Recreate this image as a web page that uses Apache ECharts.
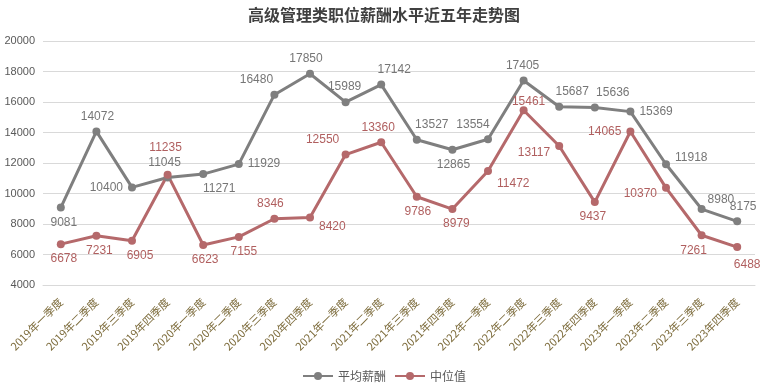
<!DOCTYPE html>
<html><head><meta charset="utf-8">
<script src="https://cdn.jsdelivr.net/npm/echarts@6/dist/echarts.min.js"></script>
<style>html,body{margin:0;padding:0;background:#fff}#c{width:768px;height:391px}</style>
</head><body><div id="c"></div>
<script>
var categories = ['2019年一季度','2019年二季度','2019年三季度','2019年四季度','2020年一季度','2020年二季度','2020年三季度','2020年四季度','2021年一季度','2021年二季度','2021年三季度','2021年四季度','2022年一季度','2022年二季度','2022年三季度','2022年四季度','2023年一季度','2023年二季度','2023年三季度','2023年四季度'];
var avgPay = [9081,14072,10400,11045,11271,11929,16480,17850,15989,17142,13527,12865,13554,17405,15687,15636,15369,11918,8980,8175];
var medianPay = [6678,7231,6905,11235,6623,7155,8346,8420,12550,13360,9786,8979,11472,15461,13117,9437,14065,10370,7261,6488];
var yTicks = {min:4000, max:20000, interval:2000};

// label placement (style only)
var avgLabelPos = ['bottom','top','left','top','bottom','right','top','top','top','top','top','bottom','top','top','top','top','right','right','right','top'];
var avgLabelOff = [[3,0],[1,0],[0,0],[-3,0],[16,0],[0,0],[-18,0],[-4,0],[-1,0],[13,0],[15,0],[1,0],[-15,0],[-1,0],[13,0],[18,0],[0,0],[0,-7],[-3,-9],[6,0]];
var medLabelPos = ['bottom','bottom','bottom','top','bottom','bottom','top','right','top','top','bottom','bottom','right','top','left','bottom','left','left','bottom','bottom'];
var medLabelOff = [[3,0],[3,0],[8,0],[-2,-12],[2,0],[5,0],[-4,0],[0,9],[-23,0],[-3,0],[1,0],[4,0],[0,13],[5,6],[0,7],[-2,0],[0,0],[0,6],[-8,0],[10,3]];

function build(vals, pos, off){
  return vals.map(function(v,i){return {value:v,label:{position:pos[i],offset:off[i]}};});
}
var chart = echarts.init(document.getElementById('c'));
var lblFont = {fontFamily:'Liberation Sans, Arial, sans-serif', fontSize:12};
chart.setOption({
  animation:false,
  title:{text:'高级管理类职位薪酬水平近五年走势图',left:'center',top:2,
    textStyle:{fontFamily:'Noto Sans CJK SC',fontSize:16,fontWeight:'bold',color:'#404040'}},
  grid:{left:43,right:13,top:41,bottom:106},
  legend:{bottom:4,left:'center',itemWidth:30,itemHeight:10,itemGap:8,
    textStyle:{fontFamily:'Noto Sans CJK SC',fontSize:12,color:'#595959'},
    data:['平均薪酬','中位值']},
  xAxis:{type:'category',data:categories,boundaryGap:true,
    axisLine:{show:true,lineStyle:{color:'#d9d9d9'}},axisTick:{show:false},
    axisLabel:{rotate:45,interval:0,fontSize:11,color:'#7d6c3c',margin:15,
      fontFamily:'Noto Sans CJK SC'}},
  yAxis:{type:'value',min:yTicks.min,max:yTicks.max,interval:yTicks.interval,
    axisLine:{show:false},axisTick:{show:false},
    splitLine:{lineStyle:{color:'#d9d9d9',width:1}},
    axisLabel:{fontFamily:'Liberation Sans, Arial, sans-serif',fontSize:11,color:'#595959',margin:8,
      formatter:function(v){return String(v);}}},
  series:[
    {name:'平均薪酬',type:'line',data:build(avgPay,avgLabelPos,avgLabelOff),
      symbol:'circle',symbolSize:8,
      lineStyle:{color:'#7f7f7f',width:3},itemStyle:{color:'#7f7f7f'},
      label:Object.assign({show:true,color:'#767676',distance:5},lblFont)},
    {name:'中位值',type:'line',data:build(medianPay,medLabelPos,medLabelOff),
      symbol:'circle',symbolSize:8,
      lineStyle:{color:'#b5696b',width:3},itemStyle:{color:'#b5696b'},
      label:Object.assign({show:true,color:'#b05f5f',distance:5},lblFont)}
  ]
});
</script></body></html>
